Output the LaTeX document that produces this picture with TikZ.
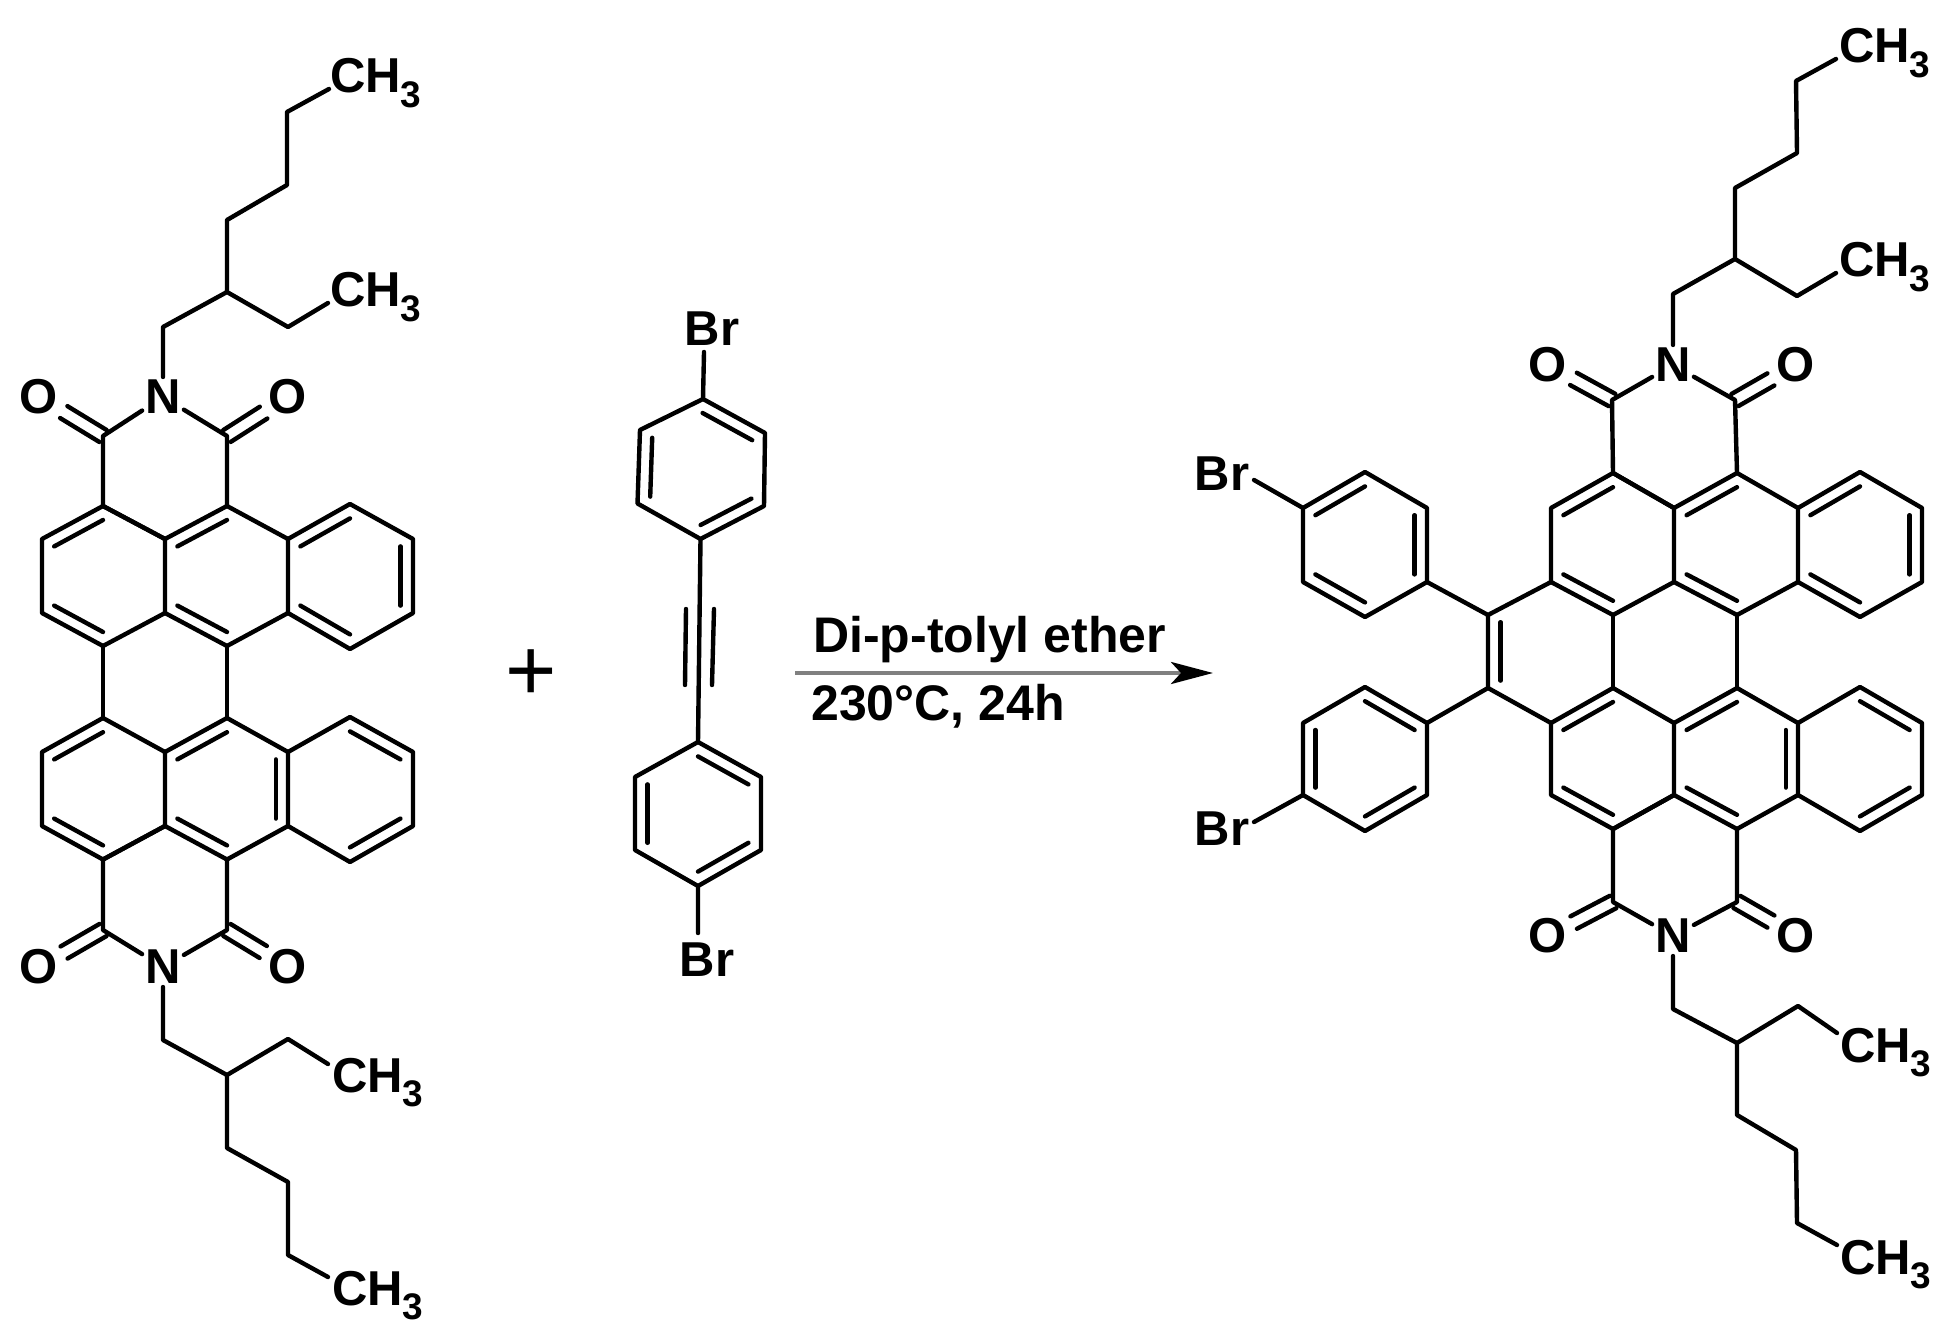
\documentclass[tikz,border=0pt]{standalone}
\usepackage{fontspec}
\setmainfont{Liberation Sans}
\usetikzlibrary{calc,arrows.meta}
\newcommand{\inr}[3]{\draw[bond] ($(#1)!.2!(#3)$) -- ($(#2)!.2!(#3)$);}
\newcommand{\dbo}[2]{\draw[bond,shorten >=29pt] ($(#1)!7pt!90:(#2)$) -- ($(#2)!7pt!-90:(#1)$);
  \draw[bond,shorten >=29pt] ($(#1)!7pt!-90:(#2)$) -- ($(#2)!7pt!90:(#1)$);}
\newcommand{\methyl}{CH\raisebox{-.29em}{\fontsize{37}{37}\selectfont 3}}
\newcommand{\coords}[1]{\foreach \n/\a/\b in {#1}{\coordinate (\n) at (\a,\b);}}
\tikzset{
  bond/.style={line width=4.4pt,line join=round,line cap=round,black},
  atom/.style={font=\fontsize{49}{52}\selectfont\bfseries,inner sep=3pt,text=black},
  group/.style={font=\fontsize{49}{52}\selectfont\bfseries,inner sep=0pt,anchor=base west,text=black},
  cond/.style={font=\fontsize{50}{54}\selectfont\bfseries,inner sep=0pt,anchor=base west,text=black},
  rxn/.style={line width=4.5pt,color=black!50,-{Stealth[color=black,length=42pt,width=22pt,inset=10pt]}},
}
\begin{document}
\begin{tikzpicture}[x=1pt,y=-1pt]
\useasboundingbox (0,0) rectangle (1959,1337);
\fill[white] (0,0) rectangle (1959,1337);
% ---- core atoms: left molecule
\coords{u1/103/506,u2/42/539,u3/42/613,u4/103/646,u5/165/613,u6/165/539,u7/227/506,u8/288/539,u9/288/613,u10/227/646,u11/350/504,u12/413/539,u13/413/613,u14/350/649,uA/103/576,uB/227/576,uC/350/576}
\coords{v1/103/859.5,v2/42/826,v3/42/752,v4/103/718,v5/165/752,v6/165/826,v7/227/859.5,v8/288/826,v9/288/752,v10/227/718,v11/350/862,v12/413/826,v13/413/752,v14/350/717,vA/103/789,vB/227/789,vC/350/789}
% ---- core atoms: right molecule
\coords{r1/1613/473,r2/1551/508,r3/1551/582,r4/1613/615,r5/1674/582,r6/1674/508,r7/1737/473,r8/1798/508,r9/1798/582,r10/1737/615,r11/1860/472,r12/1922/508,r13/1922/582,r14/1860/617,rA/1613/544,rB/1737/544,rC/1860/544,rD/1551/651}
\coords{s1/1613/829,s2/1551/795,s3/1551/723,s4/1613/688,s5/1674/723,s6/1674/795,s7/1737/829,s8/1798/795,s9/1798/723,s10/1737/688,s11/1860/831,s12/1922/795,s13/1922/723,s14/1860/687,sA/1613/758,sB/1737/758,sC/1860/758}
% rings
\foreach \p in {u,v,r,s}{
  \draw[bond] (\p1)--(\p2)--(\p3)--(\p4)--(\p5)--(\p6)--cycle;
  \draw[bond] (\p1)--(\p6) (\p6)--(\p7)--(\p8)--(\p9)--(\p10)--(\p5);
  \draw[bond] (\p8)--(\p11)--(\p12)--(\p13)--(\p14)--(\p9);
}
\foreach \p in {u,r}{
  \inr{\p1}{\p2}{\p A}\inr{\p3}{\p4}{\p A}\inr{\p6}{\p7}{\p B}\inr{\p5}{\p10}{\p B}
  \inr{\p8}{\p11}{\p C}\inr{\p12}{\p13}{\p C}\inr{\p9}{\p14}{\p C}
}
\foreach \p in {v,s}{
  \inr{\p1}{\p2}{\p A}\inr{\p3}{\p4}{\p A}\inr{\p6}{\p7}{\p B}\inr{\p5}{\p10}{\p B}
  \inr{\p8}{\p9}{\p B}\inr{\p14}{\p13}{\p C}\inr{\p12}{\p11}{\p C}
}
\draw[bond] (u4)--(v4) (u10)--(v10) (r4)--(s4) (r10)--(s10);
% ---- imides
\coords{c1/103/436,c2/227/436,c3/103/930,c4/227/930,c5/1612/400,c6/1735/400,c7/1613/902,c8/1737/902}
\node[atom] (N1) at (163,397) {N};
\node[atom] (O1) at (39,397) {O};
\node[atom] (O2) at (288,397) {O};
\node[atom] (N2) at (163,967) {N};
\node[atom] (O3) at (39,967) {O};
\node[atom] (O4) at (288,967) {O};
\node[atom] (N3) at (1673,365) {N};
\node[atom] (O5) at (1548,365) {O};
\node[atom] (O6) at (1796,365) {O};
\node[atom] (N4) at (1673,936) {N};
\node[atom] (O7) at (1548,936) {O};
\node[atom] (O8) at (1796,936) {O};
\draw[bond] (u1)--(c1)--(N1) (u7)--(c2)--(N1);
\draw[bond] (v1)--(c3)--(N2) (v7)--(c4)--(N2);
\draw[bond] (r1)--(c5)--(N3) (r7)--(c6)--(N3);
\draw[bond] (s1)--(c7)--(N4) (s7)--(c8)--(N4);
\dbo{c1}{O1}\dbo{c2}{O2}\dbo{c3}{O3}\dbo{c4}{O4}
\dbo{c5}{O5}\dbo{c6}{O6}\dbo{c7}{O7}\dbo{c8}{O8}
% ---- alkyl chains
\coords{a1/163/327,a2/227/292,a3/227/220,a4/287/185,a5/287/112,a6/329/89,a7/288/327,a8/328/303}
\coords{b1/163/1040,b2/227/1075,b3/227/1148,b4/288/1182,b5/288/1255,b6/328/1277,b7/288/1039,b8/328/1064}
\coords{d1/1673/294,d2/1735/259,d3/1735/188,d4/1797/153,d5/1796/81,d6/1836/59,d7/1797/296,d8/1836/273}
\coords{e1/1673/1009,e2/1737/1043,e3/1737/1115,e4/1796/1150,e5/1797/1223,e6/1837/1245,e7/1798/1006,e8/1837/1033}
\draw[bond] (N1)--(a1)--(a2)--(a3)--(a4)--(a5)--(a6) (a2)--(a7)--(a8);
\draw[bond] (N2)--(b1)--(b2)--(b3)--(b4)--(b5)--(b6) (b2)--(b7)--(b8);
\draw[bond] (N3)--(d1)--(d2)--(d3)--(d4)--(d5)--(d6) (d2)--(d7)--(d8);
\draw[bond] (N4)--(e1)--(e2)--(e3)--(e4)--(e5)--(e6) (e2)--(e7)--(e8);
\node[group] (m1) at (330,93) {\methyl};
\node[group] (m2) at (330,307) {\methyl};
\node[group] (m3) at (332,1092) {\methyl};
\node[group] (m4) at (332,1305) {\methyl};
\node[group] (m5) at (1839,63) {\methyl};
\node[group] (m6) at (1839,277) {\methyl};
\node[group] (m7) at (1840,1062) {\methyl};
\node[group] (m8) at (1840,1274) {\methyl};
% ---- dibromotolane
\coords{t1/703/399,t2/765/433,t3/764/506,t4/700.5/539,t5/637.5/503.5,t6/640/430,tC/701/469}
\coords{w1/698/742,w2/761/777,w3/761/850,w4/698/886,w5/635/850,w6/635/777,wC/698/814}
\coords{y1/686/609,y2/685/685,y3/714/609,y4/712/685,z1/704/352,z2/698/933}
\draw[bond] (t1)--(t2)--(t3)--(t4)--(t5)--(t6)--cycle;
\draw[bond] (w1)--(w2)--(w3)--(w4)--(w5)--(w6)--cycle;
\inr{t1}{t2}{tC}\inr{t3}{t4}{tC}\inr{t5}{t6}{tC}
\inr{w1}{w2}{wC}\inr{w3}{w4}{wC}\inr{w5}{w6}{wC}
\draw[bond] (t4)--(w1) (y1)--(y2) (y3)--(y4) (t1)--(z1) (w4)--(z2);
\node[atom] (Br1) at (712,329) {Br};
\node[atom] (Br2) at (707,960) {Br};
% ---- product aryl groups
\coords{f1/1427/508,f2/1365/472,f3/1303/508,f4/1303/582,f5/1365/617,f6/1427/582,fC/1365/544,f7/1488/615}
\coords{g1/1427/723,g2/1365/687,g3/1303/723,g4/1303/795,g5/1365/831,g6/1427/795,gC/1365/758,g7/1488/688}
\coords{h1/1254/480,h2/1254/822}
\draw[bond] (f1)--(f2)--(f3)--(f4)--(f5)--(f6)--cycle;
\draw[bond] (g1)--(g2)--(g3)--(g4)--(g5)--(g6)--cycle;
\inr{f2}{f3}{fC}\inr{f1}{f6}{fC}\inr{f4}{f5}{fC}
\inr{g1}{g2}{gC}\inr{g3}{g4}{gC}\inr{g5}{g6}{gC}
\draw[bond] (f6)--(f7)--(r3) (g1)--(g7)--(s3) (f7)--(g7) (f3)--(h1) (g4)--(h2);
\inr{f7}{g7}{rD}
\node[atom] (Br3) at (1222,474) {Br};
\node[atom] (Br4) at (1222,829) {Br};
% ---- reaction
\node[atom,font=\fontsize{88}{88}\selectfont] (plus) at (531,675) {+};
\coordinate (arS) at (795,673);
\coordinate (arE) at (1213,673);
\draw[rxn] (arS)--(arE);
\node[cond] (top) at (813,652) {Di-p-tolyl ether};
\node[cond] (bot) at (811,720) {230°C, 24h};
\end{tikzpicture}
\end{document}
